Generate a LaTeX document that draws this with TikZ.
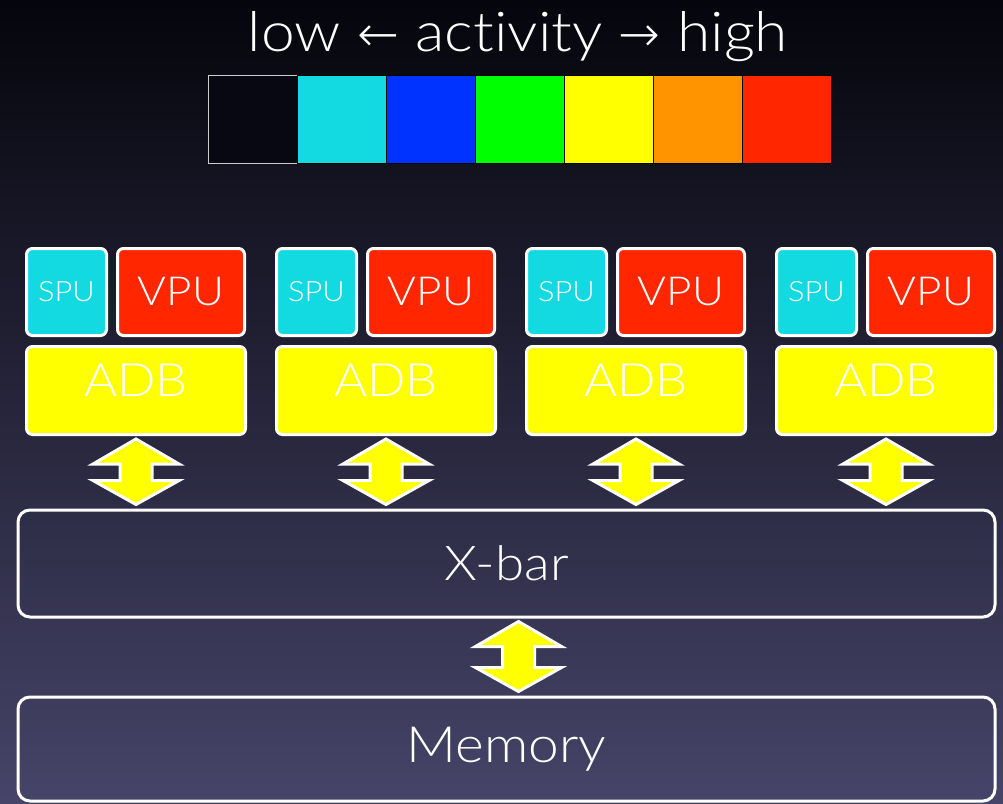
\documentclass[tikz,border=0pt]{standalone}
\usepackage{fontspec}
\setmainfont{Lato}[UprightFont={* Light}, Ligatures=NoCommon, FakeStretch=1.1]
\newfontfamily\arrowfont{DejaVu Sans}[UprightFont={* ExtraLight}]
\usetikzlibrary{positioning, calc}

\definecolor{bgtop}{RGB}{5,5,12}
\definecolor{bgmid}{RGB}{24,24,44}
\definecolor{bgbot}{RGB}{70,68,104}
\definecolor{actdark}{RGB}{8,8,18}
\definecolor{actcyan}{RGB}{18,218,224}
\definecolor{actblue}{RGB}{0,51,255}
\definecolor{actgreen}{RGB}{0,255,0}
\definecolor{actyellow}{RGB}{255,255,0}
\definecolor{actorange}{RGB}{255,148,0}
\definecolor{actred}{RGB}{255,38,0}

\tikzset{
unitbox/.style={
    rectangle,
    draw=white,
    line width=3pt,
    rounded corners=6pt,
    text=white,
    inner sep=0pt
},
swatch/.style={
    rectangle,
    draw=black,
    line width=0.6pt,
    minimum width=89pt,
    minimum height=88pt,
    inner sep=0pt,
    outer sep=0pt
},
busbox/.style={
    rectangle,
    draw=white,
    line width=3pt,
    rounded corners=12pt,
    minimum width=977pt,
    inner sep=0pt,
    text=white,
    font=\fontsize{48}{52}\selectfont
},
linkarrow/.style={
    fill=actyellow,
    draw=white,
    line width=3pt,
    line join=miter
}}

% fat double arrow between two nodes, taken at the x of the first
\newcommand\dualarrow[2]{%
  \draw[linkarrow] let \p1=(#1), \p2=(#2) in
    (\x1,\y1-3pt) -- (\x1+43pt,\y1-28pt) -- (\x1+16pt,\y1-28pt)
    -- (\x1+16pt,\y2+28pt) -- (\x1+43pt,\y2+28pt) -- (\x1,\y2+4pt)
    -- (\x1-43pt,\y2+28pt) -- (\x1-16pt,\y2+28pt)
    -- (\x1-16pt,\y1-28pt) -- (\x1-43pt,\y1-28pt) -- cycle;}

\begin{document}
\begin{tikzpicture}[x=1pt, y=-1pt]

    % background
    \useasboundingbox (0,0) rectangle (1003,803);
    \shade[top color=bgtop, middle color=bgmid, bottom color=bgbot] (0,0) rectangle (1003,803);

    % activity scale
    \node[text=white, anchor=base, font=\fontsize{55}{58}\selectfont] (title) at (518,51)
        {low {\arrowfont\fontsize{50}{54}\selectfont ←} activity {\arrowfont\fontsize{50}{54}\selectfont →} high};

    \node[swatch, anchor=north west, fill=actdark, draw=white!80!black] (sw1) at (208,75) {};
    \node[swatch, right=0pt of sw1, fill=actcyan] (sw2) {};
    \node[swatch, right=0pt of sw2, fill=actblue] (sw3) {};
    \node[swatch, right=0pt of sw3, fill=actgreen] (sw4) {};
    \node[swatch, right=0pt of sw4, fill=actyellow] (sw5) {};
    \node[swatch, right=0pt of sw5, fill=actorange] (sw6) {};
    \node[swatch, right=0pt of sw6, fill=actred] (sw7) {};

    % shared bus and memory
    \node[busbox, minimum height=107pt] (xbar) at (506.5,563.5) {X-bar};
    \node[busbox, minimum height=104pt, font=\fontsize{50}{54}\selectfont] (memory) at (506.5,749) {Memory};

    % four lanes
    \foreach \i in {1,...,4}{
        \pgfmathsetmacro\dx{250*(\i-1)}
        \node[unitbox, anchor=north west, fill=actcyan, minimum width=80pt, minimum height=87pt,
              font=\fontsize{28}{30}\selectfont] (spu\i) at (25+\dx,247) {SPU};
        \node[unitbox, right=8pt of spu\i, fill=actred, minimum width=127pt, minimum height=87pt,
              font=\fontsize{40}{42}\selectfont] (vpu\i) {VPU};
        \node[unitbox, below right=8pt and 0pt of spu\i.south west, anchor=north west, fill=actyellow,
              minimum width=219pt, minimum height=88pt,
              label={[text=white, yshift=10pt, font=\fontsize{46}{48}\selectfont]center:ADB}] (adb\i) {};
        \dualarrow{adb\i.south}{xbar.north}
    }

    \coordinate (xbarport) at ($(xbar.south)+(12,0)$);
    \dualarrow{xbarport}{memory.north}

\end{tikzpicture}
\end{document}
